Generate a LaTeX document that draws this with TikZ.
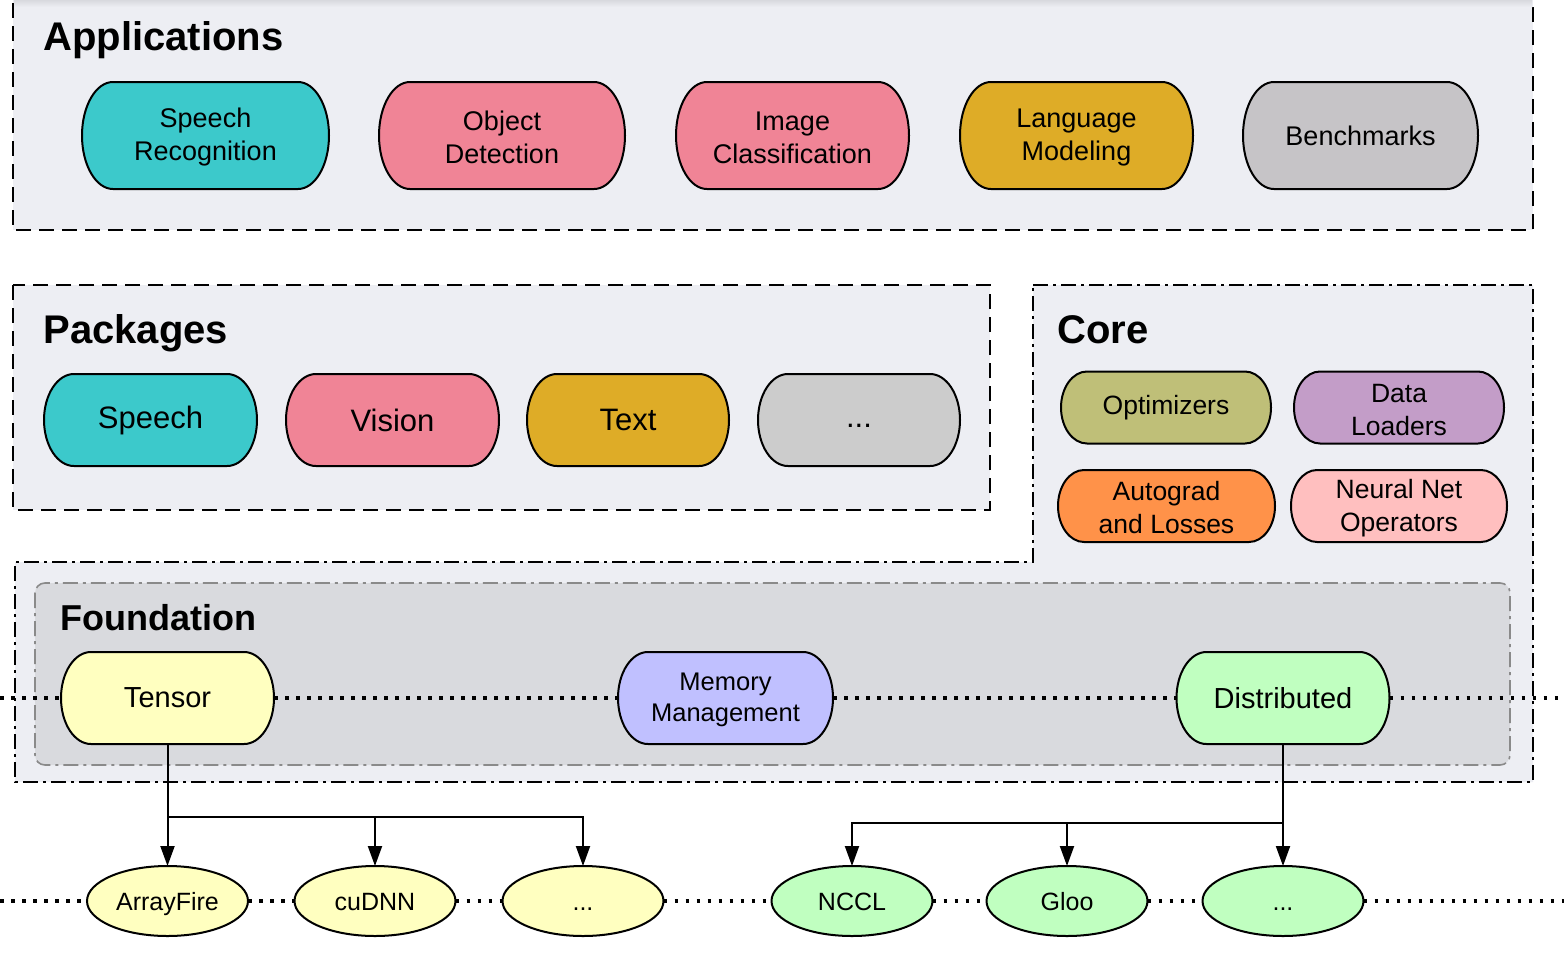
\documentclass[tikz,border=0pt]{standalone}
\usepackage{fontspec}
\setmainfont{Liberation Sans}
\usetikzlibrary{arrows.meta,shapes.geometric}
\pgfdeclarelayer{back}
\pgfdeclarelayer{shp}
\pgfsetlayers{back,shp,main}
\definecolor{boxfill}{HTML}{EDEEF3}
\definecolor{boxtop}{HTML}{D8D9DE}
\definecolor{fndfill}{HTML}{D9DADE}
\definecolor{fndline}{HTML}{8A8A8A}
\definecolor{cteal}{HTML}{3CC9CB}
\definecolor{cpink}{HTML}{F08496}
\definecolor{cgold}{HTML}{DEAC27}
\definecolor{cbench}{HTML}{C6C4C7}
\definecolor{cdots}{HTML}{CCCCCC}
\definecolor{colive}{HTML}{BFBF78}
\definecolor{cpurple}{HTML}{C39DC8}
\definecolor{corange}{HTML}{FF9249}
\definecolor{clpink}{HTML}{FFBFBF}
\definecolor{cyellow}{HTML}{FFFFC0}
\definecolor{clav}{HTML}{C0C0FF}
\definecolor{cgreen}{HTML}{C0FFC0}
\newcommand\pillbody[4]{%
  \begin{pgfonlayer}{shp}
  \draw[line width=1pt,fill=#4] ([xshift=#2]#1.north west) -- ([xshift=-#2]#1.north east)
    arc[start angle=90,end angle=-90,x radius=#2,y radius=#3]
    -- ([xshift=#2]#1.south west)
    arc[start angle=270,end angle=90,x radius=#2,y radius=#3] -- cycle;
  \end{pgfonlayer}}
\newcommand\dotstext{\vphantom{Ag}...}
\begin{document}
\begin{tikzpicture}[x=0.5pt,y=-0.5pt,
  pillbase/.style={inner sep=0pt,outer sep=0pt,align=center},
  app/.style={pillbase,minimum height=53.5pt,font=\fontsize{13.5}{16.5}\selectfont},
  pkg/.style={pillbase,minimum height=46pt,font=\fontsize{15.5}{18}\selectfont},
  corenode/.style={pillbase,minimum height=36pt,font=\fontsize{13.25}{16.5}\selectfont},
  fnd/.style={pillbase,minimum height=46pt,font=\fontsize{14.5}{17}\selectfont},
  lib/.style={ellipse,draw,line width=1pt,minimum width=80.5pt,minimum height=35pt,inner sep=0pt,outer sep=0pt,text height=9.5pt,text depth=0.5pt,font=\fontsize{12.5}{15}\selectfont},
  title/.style={anchor=base west,inner sep=0pt,font=\bfseries\fontsize{20}{24}\selectfont},
  dotline/.style={line width=1.75pt,dash pattern=on 1.75pt off 3.75pt},
  conn/.style={line width=1pt},
  arr/.style={line width=1pt,-{Triangle[length=10pt,width=7pt]}},
  dashbox/.style={draw,line width=1pt,fill=boxfill,dash pattern=on 7.5pt off 4pt},
  ddbox/.style={draw,line width=1pt,fill=boxfill,dash pattern=on 7.5pt off 2.5pt on 1.5pt off 2.5pt},
  fndbox/.style={draw=fndline,line width=0.8pt,fill=fndfill,rounded corners=5pt,dash pattern=on 7.5pt off 2.5pt on 1.5pt off 2.5pt}
]
\useasboundingbox (0,0) rectangle (1564,954);

% containers
\begin{pgfonlayer}{back}
\fill[white] (0,0) rectangle (1564,954);
\path[dashbox] (13,-20) rectangle (1533,230);
\shade[top color=boxtop,bottom color=boxfill] (14,0) rectangle (1532,7);
\path[dashbox] (13,285) rectangle (990,510);
\path[ddbox] (1033,285) -- (1533,285) -- (1533,782) -- (15,782) -- (15,562) -- (1033,562) -- cycle;
\path[fndbox] (35,583) rectangle (1510,765);
\end{pgfonlayer}

% titles
\node[title] (tapp) at (43,50) {Applications};
\node[title] (tpkg) at (43,343) {Packages};
\node[title] (tcore) at (1057,343) {Core};
\node[title,font=\bfseries\fontsize{18}{22}\selectfont] (tfnd) at (60,630) {Foundation};

% applications
\node[app,minimum width=123.5pt] (sr) at (205.5,135.5) {\strut Speech\\Recognition};
\pillbody{sr}{15.5pt}{26.75pt}{cteal}
\node[app,minimum width=123pt] (od) at (502,135.5) {\strut Object\\Detection};
\pillbody{od}{15.5pt}{26.75pt}{cpink}
\node[app,minimum width=116.5pt] (ic) at (792.5,135.5) {\strut Image\\Classification};
\pillbody{ic}{15.5pt}{26.75pt}{cpink}
\node[app,minimum width=116.5pt] (lm) at (1076.5,135.5) {\strut Language\\Modeling};
\pillbody{lm}{15.5pt}{26.75pt}{cgold}
\node[app,minimum width=117.5pt] (bm) at (1360.5,135.5) {Benchmarks};
\pillbody{bm}{15.5pt}{26.75pt}{cbench}

% packages
\node[pkg,minimum width=106.5pt] (psp) at (150.5,420) {Speech};
\pillbody{psp}{15pt}{23pt}{cteal}
\node[pkg,minimum width=106.5pt] (pvi) at (392.5,420) {Vision};
\pillbody{pvi}{15pt}{23pt}{cpink}
\node[pkg,minimum width=101pt] (ptx) at (628,420) {Text};
\pillbody{ptx}{15pt}{23pt}{cgold}
\node[pkg,minimum width=101pt] (pdt) at (859,420) {\dotstext};
\pillbody{pdt}{15pt}{23pt}{cdots}

% core
\node[corenode,minimum width=105pt] (opt) at (1166,407.5) {Optimizers};
\pillbody{opt}{13pt}{18pt}{colive}
\node[corenode,minimum width=105pt] (dl) at (1399,407.5) {\strut Data\\Loaders};
\pillbody{dl}{13pt}{18pt}{cpurple}
\node[corenode,minimum width=108.5pt] (ag) at (1166.5,506) {\strut Autograd\\and Losses};
\pillbody{ag}{13pt}{18pt}{corange}
\node[corenode,minimum width=108pt] (nn) at (1399,506) {\strut Neural Net\\Operators};
\pillbody{nn}{13pt}{18pt}{clpink}

% foundation
\node[fnd,minimum width=106.5pt] (ten) at (167.5,698) {Tensor};
\pillbody{ten}{15pt}{23pt}{cyellow}
\node[fnd,minimum width=107.5pt,font=\fontsize{12.75}{15.5}\selectfont] (mem) at (725.5,698) {\strut Memory\\Management};
\pillbody{mem}{15pt}{23pt}{clav}
\node[fnd,minimum width=106.5pt] (dist) at (1283,698) {Distributed};
\pillbody{dist}{15pt}{23pt}{cgreen}

% libraries
\node[lib,fill=cyellow] (af) at (167.5,901) {ArrayFire};
\node[lib,fill=cyellow] (cud) at (375,901) {cuDNN};
\node[lib,fill=cyellow] (tdt) at (583,901) {...};
\node[lib,fill=cgreen] (nccl) at (852,901) {NCCL};
\node[lib,fill=cgreen] (gloo) at (1067,901) {Gloo};
\node[lib,fill=cgreen] (gdt) at (1283,901) {...};

% dotted lines
\coordinate (fl) at (0,698);
\coordinate (fr) at (1564,698);
\coordinate (ll) at (0,901);
\coordinate (lr) at (1564,901);
\begin{pgfonlayer}{back}
\draw[dotline] (fl) -- (ten.west);
\draw[dotline] (ten.east) -- (mem.west);
\draw[dotline] (mem.east) -- (dist.west);
\draw[dotline] (dist.east) -- (fr);
\draw[dotline] (ll) -- (af.west);
\draw[dotline] (af.east) -- (cud.west);
\draw[dotline] (cud.east) -- (tdt.west);
\draw[dotline] (tdt.east) -- (nccl.west);
\draw[dotline] (nccl.east) -- (gloo.west);
\draw[dotline] (gloo.east) -- (gdt.west);
\draw[dotline] (gdt.east) -- (lr);
\end{pgfonlayer}

% arrows
\coordinate (tb) at (167.5,817);
\coordinate (db) at (1283,823);
\draw[arr] (ten.south) -- (af.north);
\draw[conn] (ten.south) -- (tb);
\draw[arr] (tb) -| (cud.north);
\draw[arr] (tb) -| (tdt.north);
\draw[arr] (dist.south) -- (db) -- (gdt.north);
\draw[arr] (db) -| (gloo.north);
\draw[arr] (db) -| (nccl.north);
\end{tikzpicture}
\end{document}
